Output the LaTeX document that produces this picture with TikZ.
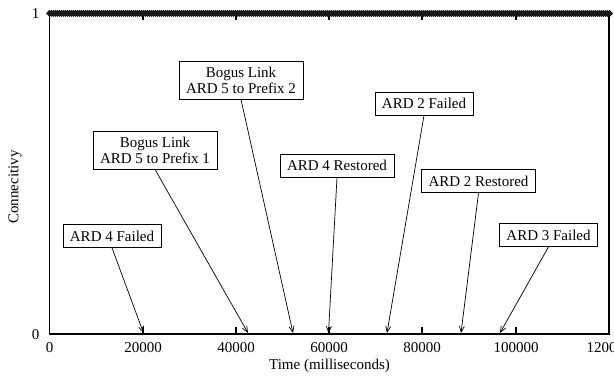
\documentclass[tikz,border=0pt]{standalone}
\usepackage{fontspec}
\setmainfont{Liberation Serif}
\usepackage{tikz}
\usetikzlibrary{arrows.meta}

\begin{document}
\begin{tikzpicture}[x=1pt, y=-1pt,
	every node/.style={font=\fontsize{15pt}{16pt}\selectfont},
	box/.style={draw, line width=0.8pt, fill=white, align=center, inner xsep=7pt, inner ysep=0pt, minimum height=23pt},
	twobox/.style={box, minimum height=38pt},
	pointer/.style={line width=0.7pt, -{Straight Barb[length=6pt, width=5pt]}},
	axis/.style={line width=1.1pt}]
	\useasboundingbox (0,0) rectangle (614,377);

	% axes and ticks
	\draw [axis] (49.5,13.5) -- (49.5,334) -- (609,334) -- (609,13.5);
	\foreach \x in {143,236,329,422,516} {
		\draw [axis] (\x,334) -- ++(0,-7);
		\draw [axis] (\x,13.5) -- ++(0,7);
	}
	\draw [axis] (49.5,334) -- ++(7,0);
	\draw [axis] (609,334) -- ++(-7,0);

	% connectivity stays at 1 (dense markers)
	\fill [black!80] (49.5,11) rectangle (609.5,16);
	\foreach \x in {49.5,51.5,...,609.5}
		\fill [black!90] (\x-3.5,13.5) -- (\x,10) -- (\x+3.5,13.5) -- (\x,17) -- cycle;

	% tick labels
	\node (y0) [anchor=east] at (43,334.5) {0};
	\node (y1) [anchor=east] at (43,14) {1};
	\node (x0) at (49.5,348) {0};
	\node (x1) at (143,348) {20000};
	\node (x2) at (236,348) {40000};
	\node (x3) at (329,348) {60000};
	\node (x4) at (422,348) {80000};
	\node (x5) at (516,348) {100000};
	\node (x6) at (609,348) {120000};

	\node (xlab) at (329.5,366) {Time (milliseconds)};
	\node (ylab) [rotate=90] at (15,187) {Connecitivy};

	% events
	\coordinate (t1) at (143.5,333);
	\coordinate (t2) at (248,333);
	\coordinate (t3) at (293,333);
	\coordinate (t4) at (328.5,333);
	\coordinate (t5) at (387,333);
	\coordinate (t6) at (461,333);
	\coordinate (t7) at (500,333);

	\node (fail4) [box] at (112,236) {ARD 4 Failed};
	\node (bogus1) [twobox] at (155,150) {Bogus Link\\ARD 5 to Prefix 1};
	\node (bogus2) [twobox] at (241,80) {Bogus Link\\ARD 5 to Prefix 2};
	\node (rest4) [box] at (337,165.5) {ARD 4 Restored};
	\node (fail2) [box] at (424,103.5) {ARD 2 Failed};
	\node (rest2) [box] at (478.5,181) {ARD 2 Restored};
	\node (fail3) [box] at (548.5,235) {ARD 3 Failed};

	\draw [pointer] (fail4.south) -- (t1);
	\draw [pointer] (bogus1.south) -- (t2);
	\draw [pointer] (bogus2.south) -- (t3);
	\draw [pointer] (rest4.south) -- (t4);
	\draw [pointer] (fail2.south) -- (t5);
	\draw [pointer] (rest2.south) -- (t6);
	\draw [pointer] (fail3.south) -- (t7);

\end{tikzpicture}
\end{document}
